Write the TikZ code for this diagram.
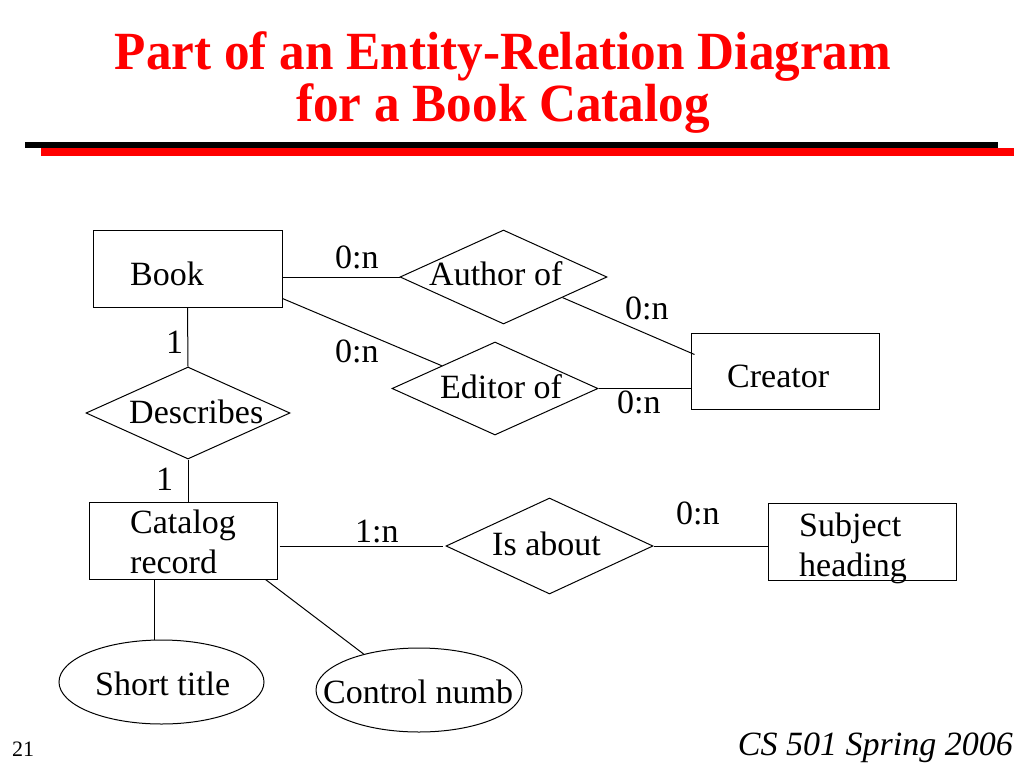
\documentclass[tikz,border=0pt]{standalone}
\usepackage{fontspec}
\setmainfont{Liberation Serif}
\usetikzlibrary{shapes.geometric,calc}
\tikzset{
  entity/.style={draw,line width=1pt,rectangle,inner sep=0pt},
  relation/.style={draw,line width=1pt,diamond,inner sep=0pt,minimum width=207pt,minimum height=94pt},
  attr/.style={draw,line width=1pt,ellipse,inner sep=0pt,minimum width=205pt,minimum height=84pt},
  conn/.style={line width=1pt},
  txt/.style={inner sep=0pt,anchor=base west,font=\fontsize{34}{40}\selectfont},
  ttl/.style={inner sep=0pt,anchor=base,text=red,yscale=1.05,font=\fontsize{51.2}{60}\selectfont\bfseries}
}
\begin{document}
\begin{tikzpicture}[x=1pt,y=-1pt]
\useasboundingbox (0,0) rectangle (1024,768);
% title
\node[ttl] (t1) at (503,69) {Part of an Entity-Relation Diagram};
\node[ttl] (t2) at (503,121) {for a Book Catalog};
\fill[black] (25,141.5) rectangle (998,148);
\fill[red] (41,148) rectangle (1014,155.5);
% entities
\node[entity,minimum width=189pt,minimum height=77pt] (book) at (187.5,268.5) {};
\node[entity,minimum width=188pt,minimum height=76pt] (creator) at (785,371) {};
\node[entity,minimum width=188pt,minimum height=77pt] (catalog) at (183,540.5) {};
\node[entity,minimum width=188pt,minimum height=77pt] (subject) at (862,542) {};
% relations
\node[relation] (author) at (503.5,277) {};
\node[relation,minimum width=206pt,minimum height=93pt] (editor) at (495,388.5) {};
\node[relation,minimum width=204pt,minimum height=92pt] (describes) at (188,413) {};
\node[relation,minimum height=96pt] (isabout) at (549.5,546) {};
% attributes
\node[attr] (short) at (161.5,682) {};
\node[attr,minimum width=206pt] (control) at (419,690) {};
% texts
\node[txt] (lbook) at (130,285) {Book};
\node[txt] (lcreator) at (727,387) {Creator};
\node[txt] (lcat1) at (130,533) {Catalog};
\node[txt] (lcat2) at (130,573) {record};
\node[txt] (lsub1) at (799,536) {Subject};
\node[txt] (lsub2) at (799,576) {heading};
\node[txt] (lauthor) at (429,285) {Author of};
\node[txt] (leditor) at (440,398) {Editor of};
\node[txt] (ldesc) at (129,423) {Describes};
\node[txt] (lis) at (492,555) {Is about};
\node[txt] (lshort) at (95,695) {Short title};
\node[txt] (lcontrol) at (323,703) {Control numb};
% cardinalities
\node[txt] (c1) at (335,268) {0:n};
\node[txt] (c2) at (335,362) {0:n};
\node[txt] (c3) at (625,319) {0:n};
\node[txt] (c4) at (617,413) {0:n};
\node[txt] (c5) at (166,353) {1};
\node[txt] (c6) at (156,490) {1};
\node[txt] (c7) at (355,542) {1:n};
\node[txt] (c8) at (676,524) {0:n};
% footer
\node[inner sep=0pt,anchor=base west,font=\fontsize{22}{26}\selectfont] (pg) at (12,756) {21};
\node[inner sep=0pt,anchor=base east,font=\fontsize{34}{40}\selectfont\itshape] (course) at (1013,755) {CS 501 Spring 2006};
% connectors
\coordinate (bookA) at (book.east |- author.west);
\coordinate (bookE) at ([yshift=9pt]book.south east);
\coordinate (creatorA) at ([xshift=4pt,yshift=-22pt]creator.north west);
\coordinate (catS) at ([xshift=-12pt]catalog.south east);
\draw[conn] (bookA) -- (author.west);
\draw[conn] (bookE) -- ($(editor.west)!0.485!(editor.north)$);
\draw[conn] ($(author.east)!0.433!(author.south)$) -- (creatorA);
\draw[conn] (editor.east) -- (editor.east -| creator.west);
\draw[conn] (book.south) -- (describes.north);
\draw[conn] (describes.south) -- (describes.south |- catalog.north);
\draw[conn] ([xshift=2pt]isabout.west -| catalog.east) -- ([xshift=-3pt]isabout.west);
\draw[conn] (isabout.east) -- (isabout.east -| subject.west);
\draw[conn] ([xshift=-7.5pt]short.north) -- ([xshift=-7.5pt]short.north |- catalog.south);
\draw[conn] (catS) -- (control.147);
\end{tikzpicture}
\end{document}
